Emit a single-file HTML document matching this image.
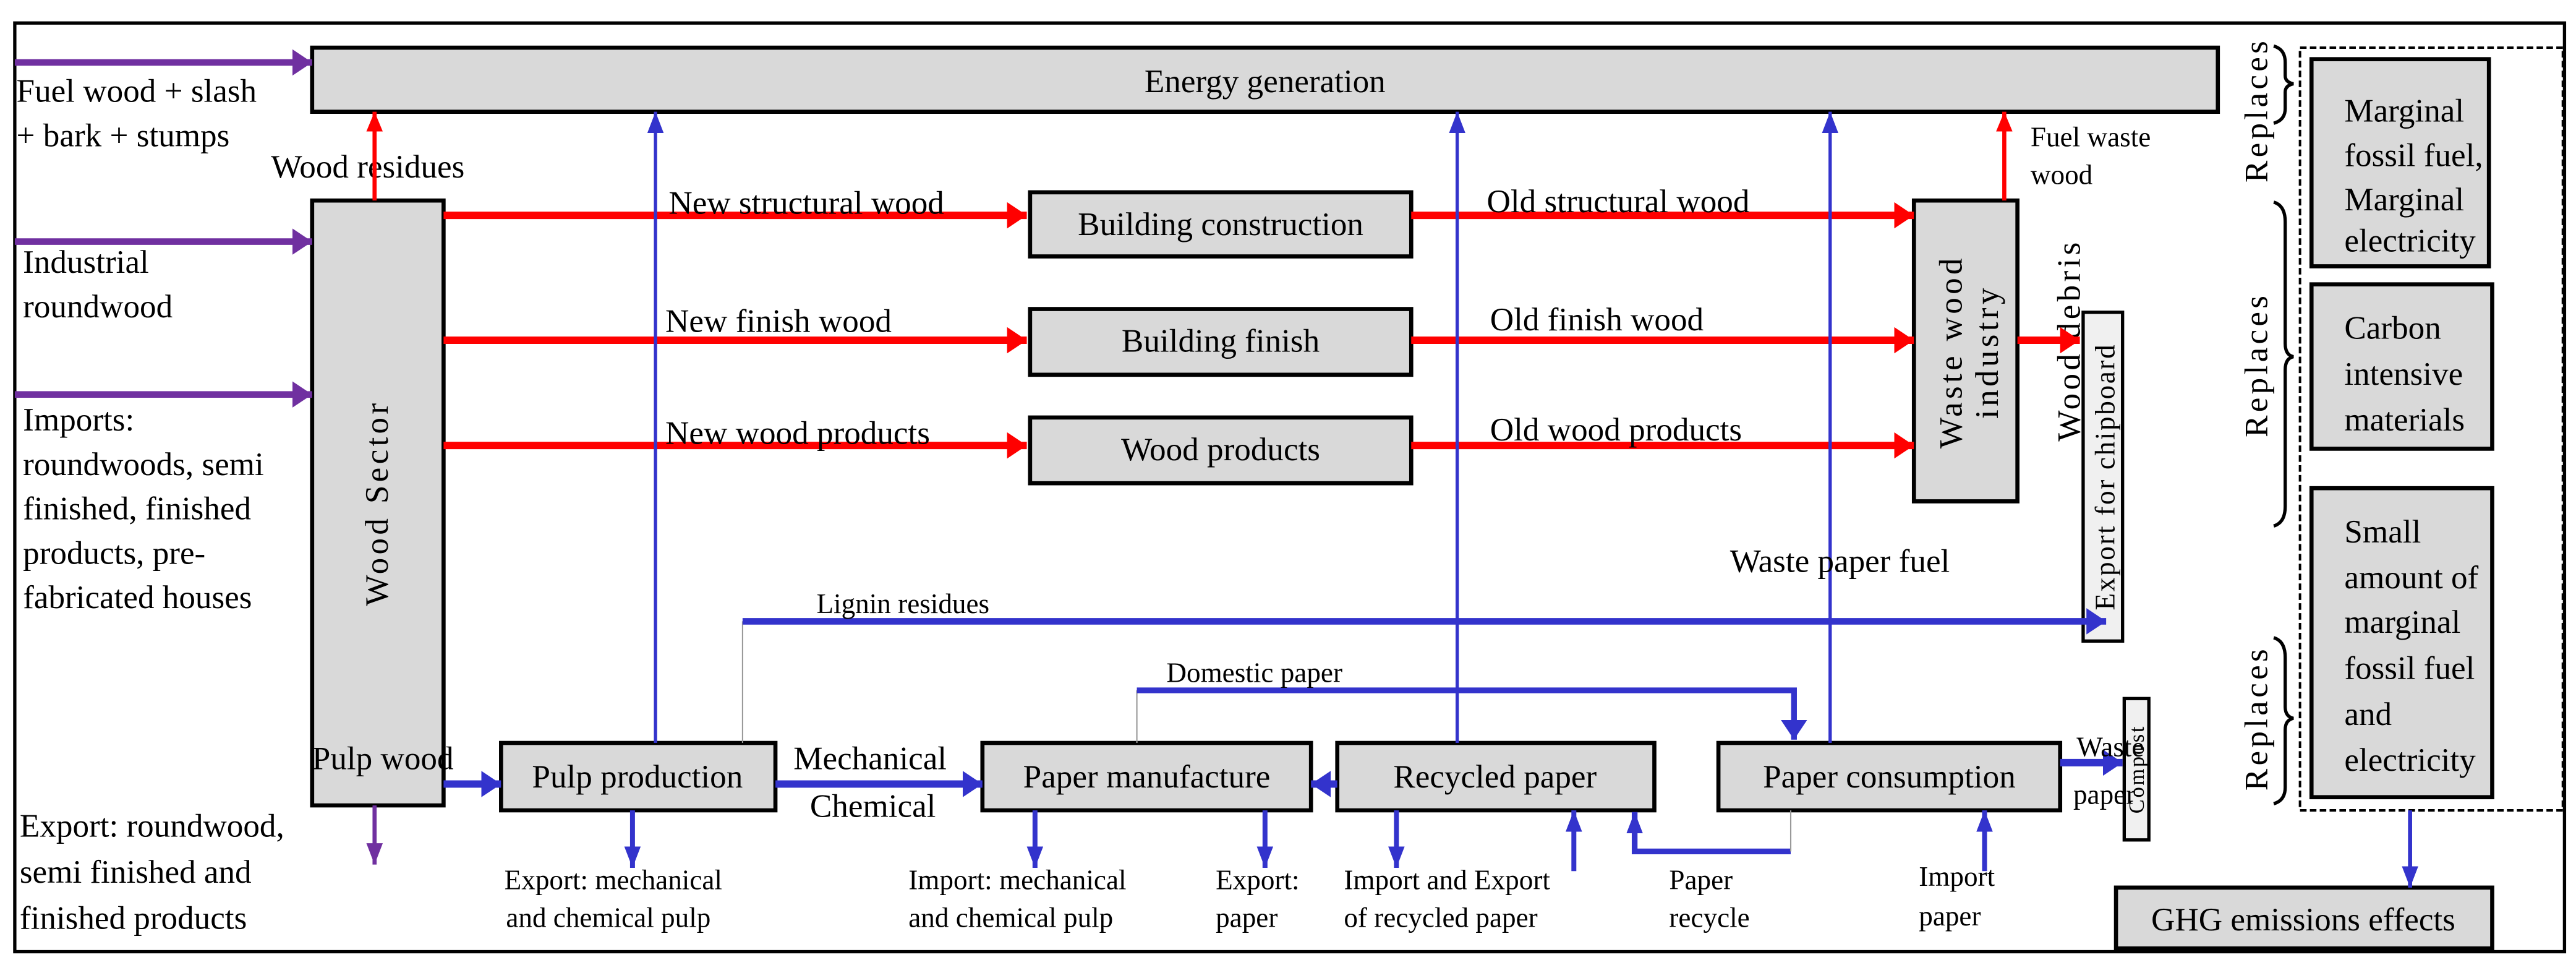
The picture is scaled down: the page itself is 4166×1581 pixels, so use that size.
<!DOCTYPE html>
<html><head><meta charset="utf-8"><style>
html,body{margin:0;padding:0;background:#fff}
svg{display:block}
svg text{font-family:"Liberation Serif","Times New Roman",serif;font-size:20px;fill:#000}
.bx{fill:#d9d9d9;stroke:#000;stroke-width:2.5}
svg text.rv{letter-spacing:2px}
</style></head><body>
<svg width="4166" height="1581" viewBox="0 0 1568 595" preserveAspectRatio="none" xmlns="http://www.w3.org/2000/svg" font-family="Liberation Serif, serif">
<defs>
<marker id="rT" markerUnits="userSpaceOnUse" markerWidth="12" markerHeight="16" refX="12" refY="8" orient="auto"><path d="M0,0L12,8L0,16z" fill="#f00"/></marker>
<marker id="rt" markerUnits="userSpaceOnUse" markerWidth="12" markerHeight="10" refX="12" refY="5" orient="auto"><path d="M0,0L12,5L0,10z" fill="#f00"/></marker>
<marker id="bT" markerUnits="userSpaceOnUse" markerWidth="12" markerHeight="16" refX="12" refY="8" orient="auto"><path d="M0,0L12,8L0,16z" fill="#3333cc"/></marker>
<marker id="bt" markerUnits="userSpaceOnUse" markerWidth="13" markerHeight="10" refX="13" refY="5" orient="auto"><path d="M0,0L13,5L0,10z" fill="#3333cc"/></marker>
<marker id="pT" markerUnits="userSpaceOnUse" markerWidth="12" markerHeight="16" refX="12" refY="8" orient="auto"><path d="M0,0L12,8L0,16z" fill="#7030a0"/></marker>
<marker id="pt" markerUnits="userSpaceOnUse" markerWidth="13" markerHeight="10" refX="13" refY="5" orient="auto"><path d="M0,0L13,5L0,10z" fill="#7030a0"/></marker>
</defs>
<rect x="9" y="14" width="1552" height="565" fill="none" stroke="#000" stroke-width="2"/>

<!-- boxes -->
<rect class="bx" x="190" y="29" width="1160" height="39"/>
<text x="770" y="56" text-anchor="middle">Energy generation</text>
<rect class="bx" x="190" y="122" width="80" height="368"/>
<text class="rv" transform="translate(236,306) rotate(-90)" text-anchor="middle">Wood Sector</text>
<rect class="bx" x="627" y="117" width="232" height="39"/>
<text x="743" y="143" text-anchor="middle">Building construction</text>
<rect class="bx" x="627" y="188" width="232" height="40"/>
<text x="743" y="214" text-anchor="middle">Building finish</text>
<rect class="bx" x="627" y="254" width="232" height="40"/>
<text x="743" y="280" text-anchor="middle">Wood products</text>
<rect class="bx" x="1165" y="122" width="63" height="183"/>
<text class="rv" transform="translate(1194,214) rotate(-90)" text-anchor="middle">Waste wood</text>
<text class="rv" transform="translate(1216,214) rotate(-90)" text-anchor="middle">industry</text>
<text class="rv" transform="translate(1266,207) rotate(-90)" text-anchor="middle">Wood debris</text>
<rect x="1268" y="190" width="24" height="200" fill="#f0f0f0" stroke="#000" stroke-width="2"/>
<text class="rv" transform="translate(1287,290) rotate(-90)" text-anchor="middle" style="font-size:17px;letter-spacing:1px">Export for chipboard</text>
<rect class="bx" x="305" y="452" width="167" height="41"/>
<text x="388" y="479" text-anchor="middle">Pulp production</text>
<rect class="bx" x="598" y="452" width="200" height="41"/>
<text x="698" y="479" text-anchor="middle">Paper manufacture</text>
<rect class="bx" x="814" y="452" width="193" height="41"/>
<text x="910" y="479" text-anchor="middle">Recycled paper</text>
<rect class="bx" x="1046" y="452" width="208" height="41"/>
<text x="1150" y="479" text-anchor="middle">Paper consumption</text>
<rect x="1293" y="425" width="15" height="86" fill="#f0f0f0" stroke="#000" stroke-width="2"/>
<text class="rv" transform="translate(1305,468) rotate(-90)" text-anchor="middle" style="font-size:13px;letter-spacing:1px">Compost</text>

<!-- right side -->
<rect x="1400" y="29" width="160" height="464" fill="none" stroke="#000" stroke-width="1.5" stroke-dasharray="4,2"/>
<rect class="bx" x="1407" y="36" width="108" height="126"/>
<text x="1427" y="74">Marginal</text><text x="1427" y="101">fossil fuel,</text><text x="1427" y="128">Marginal</text><text x="1427" y="153">electricity</text>
<rect class="bx" x="1407" y="173" width="110" height="100"/>
<text x="1427" y="206">Carbon</text><text x="1427" y="234">intensive</text><text x="1427" y="262">materials</text>
<rect class="bx" x="1407" y="297" width="110" height="188"/>
<text x="1427" y="330">Small</text><text x="1427" y="358">amount of</text><text x="1427" y="385">marginal</text><text x="1427" y="413">fossil fuel</text><text x="1427" y="441">and</text><text x="1427" y="469">electricity</text>
<rect class="bx" x="1288" y="540" width="229" height="37"/>
<text x="1402" y="566" text-anchor="middle">GHG emissions effects</text>
<line x1="1467" y1="493" x2="1467" y2="540" stroke="#3333cc" stroke-width="2.5" marker-end="url(#bt)"/>
<!-- braces -->
<path d="M1384,28 Q1391,30 1391,38 L1391,46 Q1391,50 1396,51 Q1391,52 1391,56 L1391,66 Q1391,73 1384,75" fill="none" stroke="#000" stroke-width="2"/>
<text class="rv" transform="translate(1380,67) rotate(-90)" text-anchor="middle">Replaces</text>
<path d="M1384,123 Q1391,125 1391,135 L1391,209 Q1391,216 1396,217 Q1391,218 1391,225 L1391,308 Q1391,318 1384,320" fill="none" stroke="#000" stroke-width="2"/>
<text class="rv" transform="translate(1380,222) rotate(-90)" text-anchor="middle">Replaces</text>
<path d="M1384,388 Q1391,390 1391,400 L1391,430 Q1391,436 1396,437 Q1391,438 1391,444 L1391,479 Q1391,487 1384,489" fill="none" stroke="#000" stroke-width="2"/>
<text class="rv" transform="translate(1380,437) rotate(-90)" text-anchor="middle">Replaces</text>

<!-- purple inputs -->
<line x1="9" y1="38" x2="190" y2="38" stroke="#7030a0" stroke-width="4" marker-end="url(#pT)"/>
<line x1="9" y1="147" x2="190" y2="147" stroke="#7030a0" stroke-width="4" marker-end="url(#pT)"/>
<line x1="9" y1="240" x2="190" y2="240" stroke="#7030a0" stroke-width="4" marker-end="url(#pT)"/>
<line x1="228" y1="490" x2="228" y2="526" stroke="#7030a0" stroke-width="2.5" marker-end="url(#pt)"/>

<!-- left text -->
<text x="10" y="62">Fuel wood + slash</text>
<text x="10" y="89">+ bark + stumps</text>
<text x="165" y="108">Wood residues</text>
<text x="14" y="166">Industrial</text>
<text x="14" y="193">roundwood</text>
<text x="14" y="262">Imports:</text>
<text x="14" y="289">roundwoods, semi</text>
<text x="14" y="316">finished, finished</text>
<text x="14" y="343">products, pre-</text>
<text x="14" y="370">fabricated houses</text>
<text x="12" y="509">Export: roundwood,</text>
<text x="12" y="537">semi finished and</text>
<text x="12" y="565">finished products</text>

<!-- red flows -->
<line x1="228" y1="122" x2="228" y2="68" stroke="#f00" stroke-width="2.5" marker-end="url(#rt)"/>
<line x1="1220" y1="122" x2="1220" y2="68" stroke="#f00" stroke-width="2.5" marker-end="url(#rt)"/>
<g stroke="#f00" stroke-width="4.5">
<line x1="270" y1="131" x2="625" y2="131" marker-end="url(#rT)"/>
<line x1="270" y1="207" x2="625" y2="207" marker-end="url(#rT)"/>
<line x1="270" y1="271" x2="625" y2="271" marker-end="url(#rT)"/>
<line x1="859" y1="131" x2="1165" y2="131" marker-end="url(#rT)"/>
<line x1="859" y1="207" x2="1165" y2="207" marker-end="url(#rT)"/>
<line x1="859" y1="271" x2="1165" y2="271" marker-end="url(#rT)"/>
<line x1="1228" y1="207" x2="1266" y2="207" marker-end="url(#rT)"/>
</g>
<text x="407" y="130">New structural wood</text>
<text x="405" y="202">New finish wood</text>
<text x="405" y="270">New wood products</text>
<text x="905" y="129">Old structural wood</text>
<text x="907" y="201">Old finish wood</text>
<text x="907" y="268">Old wood products</text>
<text x="1236" y="89" style="font-size:17px">Fuel waste</text>
<text x="1236" y="112" style="font-size:17px">wood</text>

<!-- blue verticals to energy -->
<g stroke="#3333cc" stroke-width="2">
<line x1="399" y1="452" x2="399" y2="68" marker-end="url(#bt)"/>
<line x1="887" y1="452" x2="887" y2="68" marker-end="url(#bt)"/>
<line x1="1114" y1="452" x2="1114" y2="68" marker-end="url(#bt)"/>
</g>
<text x="1053" y="348">Waste paper fuel</text>

<!-- lignin / domestic -->
<line x1="452" y1="378" x2="452" y2="452" stroke="#999" stroke-width="0.8"/>
<line x1="452" y1="378" x2="1282" y2="378" stroke="#3333cc" stroke-width="4" marker-end="url(#bT)"/>
<text x="497" y="373" style="font-size:17px">Lignin residues</text>
<line x1="692" y1="420" x2="692" y2="452" stroke="#999" stroke-width="0.8"/>
<polyline points="692,420 1092,420 1092,450" fill="none" stroke="#3333cc" stroke-width="3.5" marker-end="url(#bT)"/>
<text x="710" y="415" style="font-size:17px">Domestic paper</text>

<!-- bottom flows -->
<g stroke="#3333cc" stroke-width="4.5">
<line x1="270" y1="477" x2="305" y2="477" marker-end="url(#bT)"/>
<line x1="472" y1="477" x2="598" y2="477" marker-end="url(#bT)"/>
<line x1="814" y1="477" x2="798" y2="477" marker-end="url(#bT)"/>
<line x1="1254" y1="464" x2="1292" y2="464" marker-end="url(#bT)"/>
</g>
<text x="190" y="468">Pulp wood</text>
<text x="483" y="468">Mechanical</text>
<text x="493" y="497">Chemical</text>
<text x="1264" y="460" style="font-size:17px">Waste</text>
<text x="1262" y="489" style="font-size:17px">paper</text>
<g stroke="#3333cc" stroke-width="3">
<line x1="385" y1="493" x2="385" y2="528" marker-end="url(#bt)"/>
<line x1="630" y1="493" x2="630" y2="528" marker-end="url(#bt)"/>
<line x1="770" y1="493" x2="770" y2="528" marker-end="url(#bt)"/>
<line x1="850" y1="493" x2="850" y2="528" marker-end="url(#bt)"/>
<line x1="958" y1="530" x2="958" y2="493" marker-end="url(#bt)"/>
<line x1="1208" y1="530" x2="1208" y2="493" marker-end="url(#bt)"/>
</g>
<polyline points="1090,518 995,518 995,494" fill="none" stroke="#3333cc" stroke-width="3.5" marker-end="url(#bt)"/>
<line x1="1090" y1="493" x2="1090" y2="518" stroke="#999" stroke-width="0.8"/>
<text x="307" y="541" style="font-size:17px">Export: mechanical</text>
<text x="308" y="564" style="font-size:17px">and chemical pulp</text>
<text x="553" y="541" style="font-size:17px">Import: mechanical</text>
<text x="553" y="564" style="font-size:17px">and chemical pulp</text>
<text x="740" y="541" style="font-size:17px">Export:</text>
<text x="740" y="564" style="font-size:17px">paper</text>
<text x="818" y="541" style="font-size:17px">Import and Export</text>
<text x="818" y="564" style="font-size:17px">of recycled paper</text>
<text x="1016" y="541" style="font-size:17px">Paper</text>
<text x="1016" y="564" style="font-size:17px">recycle</text>
<text x="1168" y="539" style="font-size:17px">Import</text>
<text x="1168" y="563" style="font-size:17px">paper</text>
</svg>
</body></html>
